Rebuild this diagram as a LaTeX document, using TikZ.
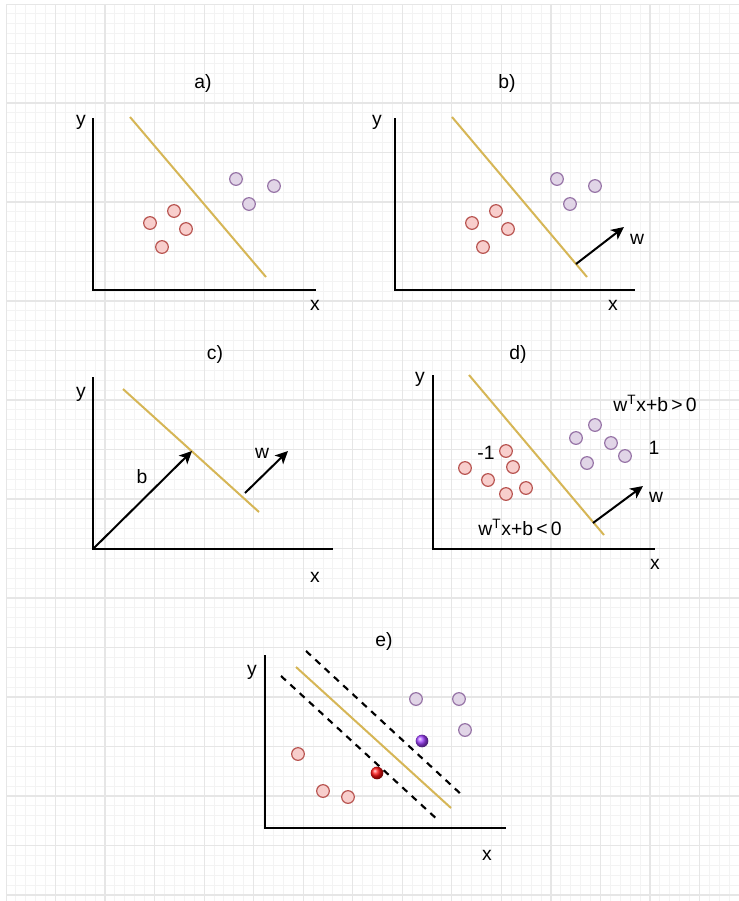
\documentclass[tikz,border=0pt]{standalone}
\usepackage{fontspec}
\setmainfont{Liberation Sans}
\usetikzlibrary{arrows.meta}
\definecolor{redfill}{HTML}{F8CECC}
\definecolor{redline}{HTML}{B85450}
\definecolor{purfill}{HTML}{E1D5E7}
\definecolor{purline}{HTML}{9673A6}
\definecolor{gold}{HTML}{D6B656}
\definecolor{gminor}{HTML}{F3F3F3}
\definecolor{gmajor}{HTML}{E6E6E6}
\definecolor{ballred}{HTML}{FF1010}
\definecolor{ballpur}{HTML}{A040FF}
\tikzset{
  axis/.style={line width=1.5pt, black, line join=miter},
  sep/.style={line width=1.5pt, gold},
  margin/.style={line width=1.6pt, black, dash pattern=on 5pt off 4.5pt},
  vec/.style={line width=1.5pt, black, -{Stealth[length=9.5pt,width=9pt,inset=2.5pt]}},
  redpt/.style={circle, draw=redline, fill=redfill, line width=0.9pt, minimum size=9.5pt, inner sep=0pt},
  purpt/.style={circle, draw=purline, fill=purfill, line width=0.9pt, minimum size=9.5pt, inner sep=0pt},
  redball/.style={circle, shading=ball, ball color=ballred, minimum size=9.5pt, inner sep=0pt},
  purball/.style={circle, shading=ball, ball color=ballpur, minimum size=9.5pt, inner sep=0pt},
  lbl/.style={font=\fontsize{14.5}{17}\selectfont, inner sep=0pt},
  minorgrid/.style={gminor, line width=0.75pt},
  majorgrid/.style={gmajor, line width=0.9pt},
}
\begin{document}
\begin{tikzpicture}[x=0.75pt,y=-0.75pt]
% background
\fill[white] (0,0) rectangle (739,901);
\useasboundingbox (0,0) rectangle (739,901);
\begin{scope}
\clip (6,4) rectangle (739,901);
\foreach \i in {0,...,74}{\draw[minorgrid] ({6+9.908*\i},4) -- ({6+9.908*\i},901);}
\foreach \j in {0,...,91}{\draw[minorgrid] (6,{4+9.9*\j}) -- (739,{4+9.9*\j});}
\foreach \i in {0,...,14}{\draw[majorgrid] ({6+49.54*\i},4) -- ({6+49.54*\i},901);}
\foreach \j in {0,...,18}{\draw[majorgrid] (6,{4+49.5*\j}) -- (739,{4+49.5*\j});}
\end{scope}

% ---------- panel a ----------
\node[lbl] (atitle) at (203,83) {a)};
\coordinate (aO) at (93,290);
\coordinate (aY) at (93,118);
\coordinate (aX) at (316,290);
\draw[axis] (aY) -- (aO) -- (aX);
\node[lbl] (ay) at (81,122) {y};
\node[lbl] (ax) at (315,305) {x};
\coordinate (aS1) at (130,117);
\coordinate (aS2) at (266,277);
\draw[sep] (aS1) -- (aS2);
\node[redpt] (ar1) at (150,223) {};
\node[redpt] (ar2) at (174,211) {};
\node[redpt] (ar3) at (186,229) {};
\node[redpt] (ar4) at (162,247) {};
\node[purpt] (ap1) at (236,179) {};
\node[purpt] (ap2) at (274,186) {};
\node[purpt] (ap3) at (249,204) {};

% ---------- panel b ----------
\node[lbl] (btitle) at (507,83) {b)};
\coordinate (bO) at (395,290);
\coordinate (bY) at (395,118);
\coordinate (bX) at (635,290);
\draw[axis] (bY) -- (bO) -- (bX);
\node[lbl] (by) at (377,122) {y};
\node[lbl] (bx) at (613,305) {x};
\coordinate (bS1) at (452,117);
\coordinate (bS2) at (587,277);
\draw[sep] (bS1) -- (bS2);
\node[redpt] (br1) at (472,223) {};
\node[redpt] (br2) at (496,211) {};
\node[redpt] (br3) at (508,229) {};
\node[redpt] (br4) at (483,247) {};
\node[purpt] (bp1) at (557,179) {};
\node[purpt] (bp2) at (595,186) {};
\node[purpt] (bp3) at (570,204) {};
\coordinate (bW1) at (576,264);
\coordinate (bW2) at (624,227);
\draw[vec] (bW1) -- (bW2);
\node[lbl] (bw) at (637,239) {w};

% ---------- panel c ----------
\node[lbl] (ctitle) at (215,354) {c)};
\coordinate (cO) at (93,549);
\coordinate (cY) at (93,377);
\coordinate (cX) at (333,549);
\draw[axis] (cY) -- (cO) -- (cX);
\node[lbl] (cy) at (81,394) {y};
\node[lbl] (cx) at (315,577) {x};
\coordinate (cS1) at (123,389);
\coordinate (cS2) at (259,512);
\draw[sep] (cS1) -- (cS2);
\coordinate (cB) at (192,451);
\draw[vec] (cO) -- (cB);
\node[lbl] (cb) at (142,477) {b};
\coordinate (cW1) at (245,493);
\coordinate (cW2) at (288,451);
\draw[vec] (cW1) -- (cW2);
\node[lbl] (cw) at (262,453) {w};

% ---------- panel d ----------
\node[lbl] (dtitle) at (518,354) {d)};
\coordinate (dO) at (433,549);
\coordinate (dY) at (433,375);
\coordinate (dX) at (655,549);
\draw[axis] (dY) -- (dO) -- (dX);
\node[lbl] (dy) at (420,379) {y};
\node[lbl] (dx) at (655,564) {x};
\coordinate (dS1) at (469,375);
\coordinate (dS2) at (604,535);
\draw[sep] (dS1) -- (dS2);
\node[redpt] (dr1) at (465,468) {};
\node[redpt] (dr2) at (506,451) {};
\node[redpt] (dr3) at (513,467) {};
\node[redpt] (dr4) at (488,480) {};
\node[redpt] (dr5) at (526,488) {};
\node[redpt] (dr6) at (506,494) {};
\node[lbl] (dneg) at (486,453) {-1};
\node[purpt] (dp1) at (595,425) {};
\node[purpt] (dp2) at (576,438) {};
\node[purpt] (dp3) at (611,443) {};
\node[purpt] (dp4) at (625,456) {};
\node[purpt] (dp5) at (587,463) {};
\node[lbl] (dpos) at (654,448) {1};
\node[lbl] (dgt) at (655,403) {w\textsuperscript{T}x+b\,>\,0};
\node[lbl] (dlt) at (520,527) {w\textsuperscript{T}x+b\,<\,0};
\coordinate (dW1) at (593,523);
\coordinate (dW2) at (643,486);
\draw[vec] (dW1) -- (dW2);
\node[lbl] (dw) at (656,497) {w};

% ---------- panel e ----------
\node[lbl] (etitle) at (384,641) {e)};
\coordinate (eO) at (265,828);
\coordinate (eY) at (265,655);
\coordinate (eX) at (506,828);
\draw[axis] (eY) -- (eO) -- (eX);
\node[lbl] (ey) at (252,672) {y};
\node[lbl] (ex) at (487,855) {x};
\coordinate (eS1) at (296,667);
\coordinate (eS2) at (451,808);
\draw[sep] (eS1) -- (eS2);
\coordinate (eU1) at (306,651);
\coordinate (eU2) at (463,796);
\draw[margin] (eU1) -- (eU2);
\coordinate (eL1) at (281,676);
\coordinate (eL2) at (439,821);
\draw[margin] (eL1) -- (eL2);
\node[redpt] (er1) at (298,754) {};
\node[redpt] (er2) at (323,791) {};
\node[redpt] (er3) at (348,797) {};
\node[redball] (er4) at (377,773) {};
\node[purpt] (ep1) at (416,699) {};
\node[purpt] (ep2) at (459,699) {};
\node[purpt] (ep3) at (465,730) {};
\node[purball] (ep4) at (422,741) {};
\end{tikzpicture}
\end{document}
